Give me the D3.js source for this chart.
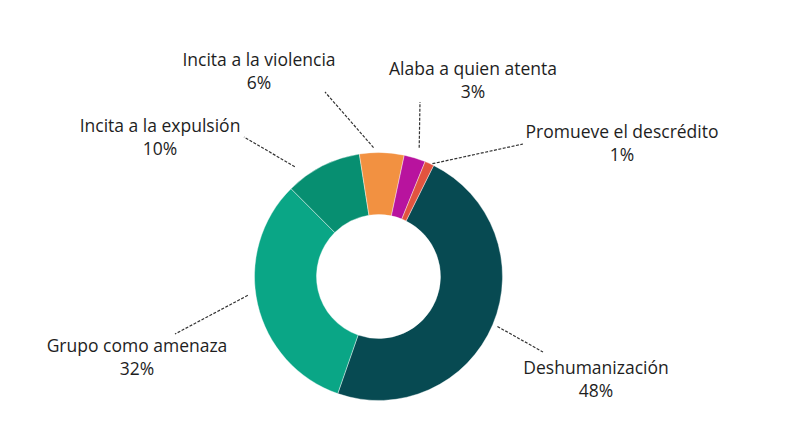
<!DOCTYPE html>
<html>
<head>
<meta charset="utf-8">
<script src="https://cdn.jsdelivr.net/npm/d3@7"></script>
<style>
  body { margin: 0; background: #fff; }
  text { font-family: "Open Sans", sans-serif; font-size: 17.5px; fill: #1e1e1e; }
</style>
</head>
<body>
<svg id="chart" width="786" height="436"></svg>
<script>
// categories and shares
var categories = ["Deshumanización", "Grupo como amenaza", "Incita a la expulsión",
                  "Incita a la violencia", "Alaba a quien atenta", "Promueve el descrédito"];
var shares = [48.0, 32.2, 10.0, 5.8, 2.8, 1.2];
var pctLabels = ["48%", "32%", "10%", "6%", "3%", "1%"];
var colors = ["#074a52", "#0aa686", "#078f71", "#f29141", "#b8139e", "#e2533f"];

// label layout
var labelX = [596, 137, 160, 259, 473, 622];
var labelY = [374, 352, 132, 66, 75, 138];
var leaderFrac = [0.5, 0.54, 0.21, 0.32, 0.55, 0.8];
var leaderR0 = [129, 132, 138, 129, 135, 125];
var leaderEnd = [[543, 352], [175, 334], [244, 137], [325, 92], [420, 102], [523, 144]];

var cx = 378.5, cy = 276.5, outerR = 124, innerR = 62;
var start = 26.4 * Math.PI / 180;

var svg = d3.select("#chart");
var g = svg.append("g").attr("transform", "translate(" + cx + "," + cy + ")");

var pie = d3.pie().sort(null).value(function (d) { return d; })
  .startAngle(start).endAngle(start + 2 * Math.PI);
var arcs = pie(shares);

var arc = d3.arc().innerRadius(innerR).outerRadius(outerR);

g.selectAll("path.slice").data(arcs).enter().append("path")
  .attr("class", "slice")
  .attr("d", arc)
  .attr("fill", function (d, i) { return colors[i]; })
  .attr("stroke", "#fff")
  .attr("stroke-width", 0.4);

// leader lines
svg.selectAll("line.leader").data(arcs).enter().append("line")
  .attr("class", "leader")
  .attr("x1", function (d, i) {
    var a = d.startAngle + (d.endAngle - d.startAngle) * leaderFrac[i];
    return cx + leaderR0[i] * Math.sin(a);
  })
  .attr("y1", function (d, i) {
    var a = d.startAngle + (d.endAngle - d.startAngle) * leaderFrac[i];
    return cy - leaderR0[i] * Math.cos(a);
  })
  .attr("x2", function (d, i) { return leaderEnd[i][0]; })
  .attr("y2", function (d, i) { return leaderEnd[i][1]; })
  .attr("stroke", "#333")
  .attr("stroke-width", 1.2)
  .attr("stroke-dasharray", "3,1.5");

// labels
var lbl = svg.selectAll("text.lbl").data(categories).enter().append("text")
  .attr("class", "lbl")
  .attr("text-anchor", "middle")
  .attr("x", function (d, i) { return labelX[i]; })
  .attr("y", function (d, i) { return labelY[i]; });
lbl.append("tspan").text(function (d) { return d; });
lbl.append("tspan")
  .attr("x", function (d, i) { return labelX[i]; })
  .attr("dy", 23)
  .text(function (d, i) { return pctLabels[i]; });
</script>
</body>
</html>
